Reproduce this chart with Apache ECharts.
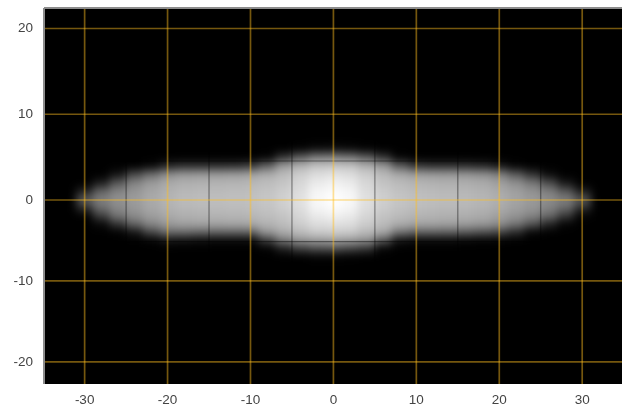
<!DOCTYPE html>
<html><head><meta charset="utf-8">
<style>html,body{margin:0;padding:0;background:#fff}#c{width:625px;height:407px}</style>
<script src="https://cdn.jsdelivr.net/npm/echarts@6/dist/echarts.min.js"></script>
</head><body><div id="c"></div>
<script>
const xTicks = [-30,-20,-10,0,10,20,30];
const yTicksUpper = [0,10,20];
const yTicksLower = [-20,-10];
const darkX = [-25,-15,-5,5,15,25];
const darkY = [4.55,-5.15];
const rows = [7,6,5,4,3,2,1,0,-1,-2,-3,-4,-5,-6,-7];
const columnsX = [-30,-28,-26,-24,-22,-20,-18,-16,-14,-12,-10,-8,-6,-4,-2,0,2,4,6,8,10,12,14,16,18,20,22,24,26,28,30];
const grayByColumn = [
[0,0,0,0,0,0,35,95,40,0,0,0,0,0,0],
[0,0,0,0,0,30,100,128,108,60,8,0,0,0,0],
[0,0,0,0,20,88,132,145,136,115,50,2,0,0,0],
[0,0,0,0,72,132,150,156,152,140,100,20,0,0,0],
[0,0,0,8,108,155,166,170,167,158,134,70,3,0,0],
[0,0,0,34,140,170,177,180,178,170,154,106,16,0,0],
[0,0,0,44,152,176,184,187,184,176,162,106,14,0,0],
[0,0,0,44,154,178,186,189,186,178,164,100,10,0,0],
[0,0,0,44,155,180,187,190,187,180,165,98,8,0,0],
[0,0,0,46,157,181,189,191,189,181,167,98,8,0,0],
[0,0,0,56,162,184,191,193,191,184,170,100,8,0,0],
[0,0,5,96,172,190,196,198,196,190,180,150,60,3,0],
[0,0,50,155,186,198,206,208,206,198,190,172,120,30,0],
[0,4,92,178,205,216,222,225,222,216,207,188,148,60,0],
[0,12,122,195,220,235,246,248,246,235,222,203,155,78,5],
[0,14,126,198,226,242,252,255,252,242,226,206,160,82,5],
[0,10,118,195,220,235,246,248,246,235,222,203,155,68,3],
[0,4,92,176,204,216,222,224,222,216,205,186,145,50,0],
[0,0,50,152,184,196,204,206,204,196,188,168,88,6,0],
[0,0,5,92,168,187,194,197,194,187,174,116,16,0,0],
[0,0,0,54,158,181,189,192,189,181,166,98,8,0,0],
[0,0,0,46,155,179,187,190,187,179,165,98,8,0,0],
[0,0,0,46,153,177,185,188,185,177,162,96,8,0,0],
[0,0,0,44,150,175,183,186,183,175,158,90,5,0,0],
[0,0,0,38,144,171,179,182,179,171,153,80,3,0,0],
[0,0,0,22,128,160,171,175,171,160,142,68,2,0,0],
[0,0,0,5,90,144,160,164,160,148,118,40,0,0,0],
[0,0,0,0,50,120,147,154,150,132,84,6,0,0,0],
[0,0,0,0,12,76,126,140,130,104,34,0,0,0,0],
[0,0,0,0,0,24,90,128,104,54,4,0,0,0,0],
[0,0,0,0,0,0,32,90,42,4,0,0,0,0,0]
];

const upperCells = [], lowerCells = [];
columnsX.forEach((x,i)=>rows.forEach((v,j)=>{
  const g = grayByColumn[i][j];
  if (g>0) (v>=0?upperCells:lowerCells).push([x,v,g]);
}));
const GOLD='rgba(255,190,30,0.46)', DARK='rgba(0,0,0,0.42)', EDGE='#8c8c8c', TXT='#444';
const FONT='"Liberation Sans", Arial, sans-serif';
const XMIN=-34.9, XMAX=34.8, YTOP=22.39, YBOTTOM=-22.74;

function cell(p,api){
  const x=api.value(0),v=api.value(1),g=api.value(2);
  const a=api.coord([x-1,v+0.5]),b=api.coord([x+1,v-0.5]);
  return {type:'rect',shape:{x:a[0],y:a[1],width:b[0]-a[0]+0.5,height:b[1]-a[1]+0.5},
    style:{fill:`rgb(${g},${g},${g})`}};
}
function vline(ymin,ymax,color,w){return function(p,api){
  const x=api.value(0),a=api.coord([x,ymax]),b=api.coord([x,ymin]);
  return {type:'line',shape:{x1:a[0],y1:a[1],x2:b[0],y2:b[1]},style:{stroke:color,lineWidth:w}};
};}
function hline(color,w){return function(p,api){
  const v=api.value(0),a=api.coord([XMIN,v]),b=api.coord([XMAX,v]);
  return {type:'line',shape:{x1:a[0],y1:a[1],x2:b[0],y2:b[1]},style:{stroke:color,lineWidth:w}};
};}
const xBase={type:'value',min:XMIN,max:XMAX,z:20,zlevel:2,axisLine:{show:false},
  axisTick:{show:false,customValues:xTicks},splitLine:{show:false}};
const yBase={type:'value',position:'left',z:20,zlevel:2,axisLine:{show:false},splitLine:{show:false}};
const lbl={color:TXT,fontSize:13.5,fontFamily:FONT};
function lineSeries(ax,render,rowsData,enc,z){
  return {type:'custom',xAxisIndex:ax,yAxisIndex:ax,zlevel:2,z:z,silent:true,renderItem:render,data:rowsData.map(v=>[v]),encode:enc};
}
const option={
  animation:false,backgroundColor:'#fff',
  grid:[
    {left:44,right:3,top:8,height:192,show:true,backgroundColor:'#000',borderWidth:0},
    {left:44,right:3,top:200,height:185,show:true,backgroundColor:'#000',borderWidth:0}
  ],
  xAxis:[
    Object.assign({},xBase,{gridIndex:0,position:'top',axisLabel:{show:false,customValues:xTicks}}),
    Object.assign({},xBase,{gridIndex:1,position:'bottom',
      axisLabel:Object.assign({show:true,customValues:xTicks,margin:9},lbl)})
  ],
  yAxis:[
    Object.assign({},yBase,{gridIndex:0,min:0,max:YTOP,
      axisTick:{show:false,customValues:yTicksUpper},
      axisLabel:Object.assign({customValues:yTicksUpper,margin:11},lbl)}),
    Object.assign({},yBase,{gridIndex:1,min:YBOTTOM,max:0,
      axisTick:{show:false,customValues:yTicksLower},
      axisLabel:Object.assign({customValues:yTicksLower,margin:11},lbl)})
  ],
  series:[
    {type:'custom',xAxisIndex:0,yAxisIndex:0,zlevel:1,silent:true,renderItem:cell,data:upperCells,encode:{x:0,y:1}},
    {type:'custom',xAxisIndex:1,yAxisIndex:1,zlevel:1,silent:true,renderItem:cell,data:lowerCells,encode:{x:0,y:1}},
    lineSeries(0,vline(0,YTOP,DARK,1.2),darkX,{x:0},5),
    lineSeries(1,vline(YBOTTOM,0,DARK,1.2),darkX,{x:0},5),
    lineSeries(0,hline(DARK,1.2),darkY.filter(v=>v>0),{y:0},5),
    lineSeries(1,hline(DARK,1.2),darkY.filter(v=>v<0),{y:0},5),
    lineSeries(0,vline(0,YTOP,GOLD,1.7),xTicks,{x:0},6),
    lineSeries(1,vline(YBOTTOM,0,GOLD,1.7),xTicks,{x:0},6),
    lineSeries(0,hline(GOLD,1.7),yTicksUpper,{y:0},6),
    lineSeries(1,hline(GOLD,1.7),yTicksLower,{y:0},6),
    lineSeries(0,vline(0,YTOP,EDGE,2),[XMIN],{x:0},7),
    lineSeries(1,vline(YBOTTOM,0,EDGE,2),[XMIN],{x:0},7),
    lineSeries(0,hline(EDGE,2),[YTOP],{y:0},7)
  ]
};
const chart=echarts.init(document.getElementById('c'),null,{renderer:'canvas'});
chart.setOption(option);
const layer=document.querySelector('canvas[data-zr-dom-id="zr_1"]');
if(layer) layer.style.filter='blur(4px)';
</script></body></html>
